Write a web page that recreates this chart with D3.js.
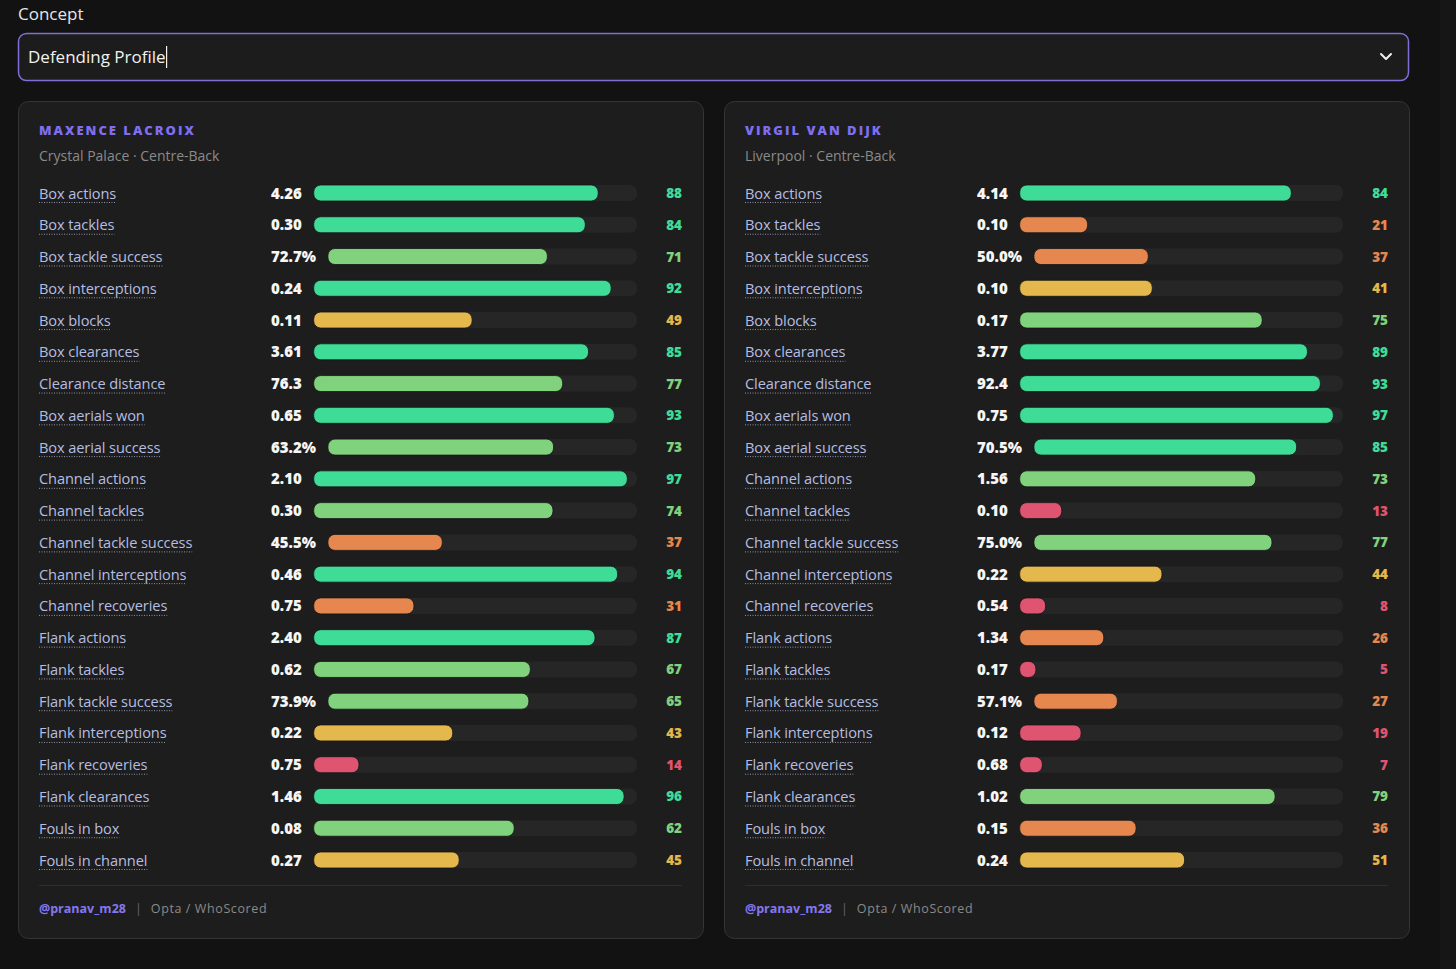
<!DOCTYPE html>
<html>
<head>
<meta charset="utf-8">
<script src="https://cdn.jsdelivr.net/npm/d3@7"></script>
<style>
  html, body { margin: 0; padding: 0; background: #121212; }
  svg { display: block; }
</style>
</head>
<body>
<svg id="chart" width="1456" height="969"></svg>
<script>
(function () {
  'use strict';

  // metric names (rows)
  var metrics = [
    'Box actions', 'Box tackles', 'Box tackle success', 'Box interceptions', 'Box blocks',
    'Box clearances', 'Clearance distance', 'Box aerials won', 'Box aerial success',
    'Channel actions', 'Channel tackles', 'Channel tackle success', 'Channel interceptions',
    'Channel recoveries', 'Flank actions', 'Flank tackles', 'Flank tackle success',
    'Flank interceptions', 'Flank recoveries', 'Flank clearances', 'Fouls in box', 'Fouls in channel'
  ];

  var lacroixValues = ['4.26', '0.30', '72.7%', '0.24', '0.11', '3.61', '76.3', '0.65', '63.2%', '2.10', '0.30',
    '45.5%', '0.46', '0.75', '2.40', '0.62', '73.9%', '0.22', '0.75', '1.46', '0.08', '0.27'];
  var lacroixPct = [88, 84, 71, 92, 49, 85, 77, 93, 73, 97, 74, 37, 94, 31, 87, 67, 65, 43, 14, 96, 62, 45];

  var vanDijkValues = ['4.14', '0.10', '50.0%', '0.10', '0.17', '3.77', '92.4', '0.75', '70.5%', '1.56', '0.10',
    '75.0%', '0.22', '0.54', '1.34', '0.17', '57.1%', '0.12', '0.68', '1.02', '0.15', '0.24'];
  var vanDijkPct = [84, 21, 37, 41, 75, 89, 93, 97, 85, 73, 13, 77, 44, 8, 26, 5, 27, 19, 7, 79, 36, 51];

  var players = [
    { name: 'MAXENCE LACROIX', sub: 'Crystal Palace \u00b7 Centre-Back', values: lacroixValues, pct: lacroixPct },
    { name: 'VIRGIL VAN DIJK', sub: 'Liverpool \u00b7 Centre-Back', values: vanDijkValues, pct: vanDijkPct }
  ];

  var tierColor = d3.scaleThreshold()
    .domain([20, 40, 60, 80])
    .range(['#df5470', '#e5874f', '#e4b84c', '#80d27c', '#3fdc98']);

  var svg = d3.select('#chart');
  var font = "'Open Sans', 'Noto Sans', sans-serif";

  // scrollbar strip on the right
  svg.append('rect').attr('x', 1440).attr('y', 0).attr('width', 16).attr('height', 969).attr('fill', '#161616');

  // concept select
  svg.append('text').attr('x', 18).attr('y', 20).attr('fill', '#e6e6e6')
    .style('font-family', font).style('font-size', '17px').text('Concept');

  svg.append('rect').attr('x', 18.5).attr('y', 33.5).attr('width', 1390).attr('height', 47).attr('rx', 8)
    .attr('fill', '#1c1c1c').attr('stroke', '#7c70d6').attr('stroke-width', 1.5);

  var selText = svg.append('text').attr('x', 28).attr('y', 63).attr('fill', '#f2f2ec')
    .style('font-family', font).style('font-size', '17px').text('Defending Profile');
  var selW = selText.node().getComputedTextLength();
  svg.append('line').attr('x1', 28 + selW + 1).attr('x2', 28 + selW + 1).attr('y1', 46).attr('y2', 68)
    .attr('stroke', '#f2f2f2').attr('stroke-width', 1.2);

  svg.append('path').attr('d', 'M1381,54 L1386,59 L1391,54').attr('fill', 'none')
    .attr('stroke', '#f0f0f0').attr('stroke-width', 2).attr('stroke-linecap', 'round').attr('stroke-linejoin', 'round');

  // panels
  var panelW = 685, panelH = 837;
  var panelX = d3.scaleOrdinal().domain([0, 1]).range([18, 724]);

  var y = d3.scalePoint().domain(metrics).range([92, 759]);
  var valueX = 253, trackEnd = 619, pctX = 664, barH = 16;

  players.forEach(function (p, pi) {
    var g = svg.append('g').attr('transform', 'translate(' + panelX(pi) + ',101)');

    g.append('rect').attr('x', 0.5).attr('y', 0.5).attr('width', panelW).attr('height', panelH).attr('rx', 10)
      .attr('fill', '#1d1d1d').attr('stroke', '#343434');

    g.append('text').attr('x', 21).attr('y', 34).attr('fill', '#7f6ff0')
      .style('font-family', font).style('font-size', '13px').style('font-weight', 800)
      .style('letter-spacing', '2px').text(p.name);

    g.append('text').attr('x', 21).attr('y', 60).attr('fill', '#8a8a8a')
      .style('font-family', font).style('font-size', '14px').text(p.sub);

    var rows = g.selectAll('g.row').data(metrics).enter().append('g').attr('class', 'row')
      .attr('transform', function (d) { return 'translate(0,' + y(d) + ')'; });

    rows.each(function (d, i) {
      var row = d3.select(this);
      var lbl = row.append('text').attr('x', 21).attr('y', 5.5).attr('fill', '#b6bde2')
        .style('font-family', font).style('font-size', '14.6px').style('letter-spacing', '-0.1px').text(d);
      var lw = lbl.node().getComputedTextLength();
      row.append('line').attr('x1', 21).attr('x2', 21 + lw).attr('y1', 9.5).attr('y2', 9.5)
        .attr('stroke', '#8e93aa').attr('stroke-width', 1).attr('stroke-dasharray', '1,1.5');

      var val = row.append('text').attr('x', valueX).attr('y', 5.5).attr('fill', '#f6f6f6')
        .style('font-family', font).style('font-size', '15px').style('font-weight', 800)
        .text(p.values[i]);
      var vw = val.node().getComputedTextLength();

      var start = valueX + vw + 12;
      var x = d3.scaleLinear().domain([0, 100]).range([start, trackEnd]);

      row.append('rect').attr('x', x(0)).attr('y', -barH / 2).attr('width', x(100) - x(0)).attr('height', barH)
        .attr('rx', 7).attr('fill', '#262626');
      row.append('rect').attr('x', x(0)).attr('y', -barH / 2).attr('width', x(p.pct[i]) - x(0)).attr('height', barH)
        .attr('rx', 7).attr('fill', tierColor(p.pct[i])).attr('stroke', '#151515').attr('stroke-width', 0.8);

      row.append('text').attr('x', pctX).attr('y', 5).attr('text-anchor', 'end')
        .attr('fill', tierColor(p.pct[i]))
        .style('font-family', font).style('font-size', '13.5px').style('font-weight', 800)
        .text(p.pct[i]);
    });

    g.append('line').attr('x1', 21).attr('x2', 664).attr('y1', 784.5).attr('y2', 784.5).attr('stroke', '#2e2e2e');

    var foot = g.append('text').attr('x', 21).attr('y', 812).style('font-family', font).style('font-size', '12.5px');
    foot.append('tspan').attr('fill', '#8677ee').style('font-weight', 700).text('@pranav_m28');
    foot.append('tspan').attr('fill', '#666').attr('dx', 9).text('|');
    foot.append('tspan').attr('fill', '#8a8a8a').attr('dx', 9).style('letter-spacing', '0.6px').text('Opta / WhoScored');
  });
})();
</script>
</body>
</html>
